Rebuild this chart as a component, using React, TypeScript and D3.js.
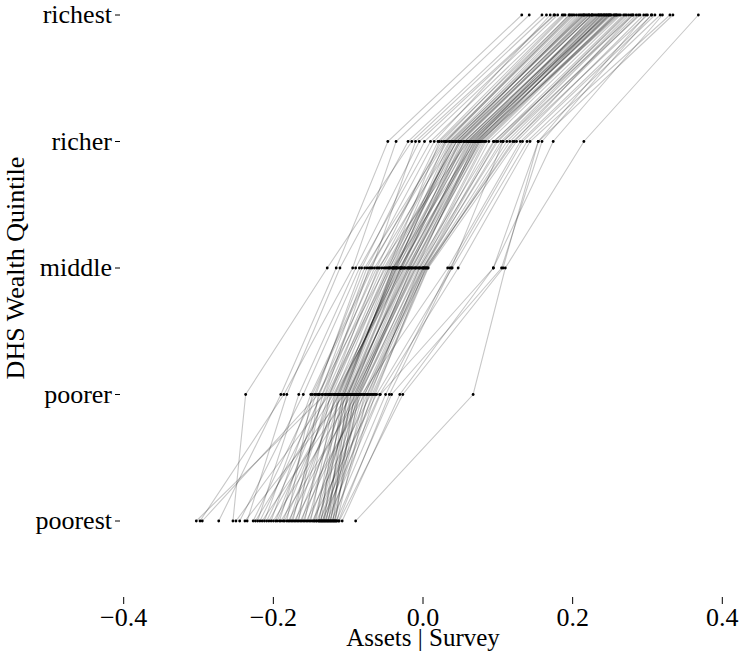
import React from "react";
import * as d3 from "d3";

const quintiles = ["poorest", "poorer", "middle", "richer", "richest"];
const xTicks = [-0.4, -0.2, 0.0, 0.2, 0.4];

const poorest = [
  -0.303, -0.298, -0.295, -0.273, -0.254, -0.250, -0.245, -0.238, -0.235, -0.227,
  -0.224, -0.221, -0.218, -0.215, -0.212, -0.209, -0.206, -0.203, -0.200, -0.197,
  -0.195, -0.192, -0.190, -0.187, -0.185, -0.182, -0.180, -0.178, -0.176, -0.174,
  -0.172, -0.170, -0.168, -0.166, -0.164, -0.162, -0.160, -0.158, -0.156, -0.154,
  -0.152, -0.150, -0.148, -0.146, -0.145, -0.143, -0.142, -0.140, -0.139, -0.138,
  -0.137, -0.136, -0.135, -0.134, -0.133, -0.132, -0.131, -0.130, -0.129, -0.128,
  -0.127, -0.126, -0.125, -0.124, -0.123, -0.122, -0.121, -0.120, -0.119, -0.118,
  -0.117, -0.116, -0.115, -0.108, -0.090, -0.112, -0.113,
];
const poorer = [
  -0.131, -0.186, -0.140, -0.190, -0.237, -0.125, -0.160, -0.105, -0.182, -0.145,
  -0.120, -0.166, -0.135, -0.100, -0.150, -0.128, -0.112, -0.143, -0.095, -0.130,
  -0.118, -0.138, -0.085, -0.122, -0.108, -0.148, -0.090, -0.126, -0.114, -0.134,
  -0.078, -0.116, -0.102, -0.140, -0.082, -0.110, -0.098, -0.124, -0.070, -0.106,
  -0.088, -0.118, -0.062, -0.100, -0.092, -0.112, -0.075, -0.096, -0.104, -0.066,
  -0.086, -0.114, -0.058, -0.094, -0.080, -0.108, -0.072, -0.090, -0.100, -0.057,
  -0.084, -0.106, -0.068, -0.088, -0.096, -0.050, -0.078, -0.102, -0.064, -0.086,
  -0.092, -0.042, -0.074, -0.031, 0.067, -0.027, -0.045,
];
const middle = [
  -0.072, -0.094, -0.050, -0.116, -0.128, -0.060, -0.085, -0.040, -0.111, -0.078,
  -0.030, -0.090, -0.065, -0.020, -0.070, -0.045, -0.035, -0.082, -0.010, -0.055,
  -0.025, -0.075, 0.000, -0.048, -0.038, -0.068, -0.015, -0.042, -0.032, -0.058,
  0.005, -0.028, -0.018, -0.062, 0.033, -0.036, -0.022, -0.052, -0.005, -0.040,
  -0.012, -0.046, 0.039, -0.030, -0.008, -0.044, 0.002, -0.026, -0.034, 0.007,
  -0.016, -0.040, 0.047, -0.020, -0.002, -0.038, 0.004, -0.014, -0.028, 0.094,
  -0.006, -0.036, 0.006, -0.010, -0.024, 0.036, 0.000, -0.030, 0.003, -0.004,
  -0.018, 0.105, 0.001, 0.094, 0.110, 0.107, 0.038,
];
const richer = [
  0.030, -0.036, 0.045, -0.047, -0.015, 0.060, 0.010, 0.070, -0.020, 0.028,
  0.055, -0.005, 0.040, 0.076, 0.025, 0.050, 0.062, 0.002, 0.094, 0.035,
  0.068, 0.015, 0.107, 0.048, 0.058, -0.010, 0.080, 0.042, 0.072, 0.032,
  0.120, 0.052, 0.065, 0.020, 0.130, 0.038, 0.074, 0.045, 0.100, 0.055,
  0.078, 0.022, 0.139, 0.060, 0.070, 0.030, 0.104, 0.066, 0.050, 0.125,
  0.076, 0.036, 0.143, 0.062, 0.088, 0.044, 0.112, 0.072, 0.056, 0.154,
  0.082, 0.040, 0.116, 0.074, 0.064, 0.133, 0.095, 0.048, 0.122, 0.084,
  0.068, 0.159, 0.098, 0.174, 0.215, 0.154, 0.107,
];
const richest = [
  0.195, 0.142, 0.210, 0.132, 0.165, 0.230, 0.186, 0.250, 0.159, 0.200,
  0.235, 0.176, 0.215, 0.262, 0.190, 0.222, 0.240, 0.180, 0.281, 0.205,
  0.228, 0.170, 0.290, 0.218, 0.245, 0.175, 0.255, 0.212, 0.238, 0.198,
  0.300, 0.225, 0.248, 0.188, 0.306, 0.208, 0.258, 0.220, 0.270, 0.232,
  0.242, 0.196, 0.317, 0.236, 0.252, 0.202, 0.275, 0.244, 0.226, 0.295,
  0.260, 0.214, 0.330, 0.246, 0.264, 0.222, 0.285, 0.250, 0.234, 0.334,
  0.256, 0.216, 0.288, 0.248, 0.238, 0.310, 0.268, 0.226, 0.280, 0.258,
  0.242, 0.305, 0.272, 0.320, 0.368, 0.298, 0.278,
];

const series = [poorest, poorer, middle, richer, richest];

export default function App() {
  const W = 739;
  const H = 652;
  const x = d3.scaleLinear().domain([-0.4, 0.4]).range([123.7, 722.3]);
  const y = d3.scalePoint<string>().domain(quintiles).range([521, 15]);
  const n = poorest.length;
  const rows = d3.range(n).map((i) => quintiles.map((q, k) => ({ q, v: series[k][i] })));
  const line = d3
    .line<{ q: string; v: number }>()
    .x((d) => x(d.v))
    .y((d) => y(d.q) as number);
  const font = '"Liberation Serif", "Times New Roman", Times, "DejaVu Serif", serif';
  const txt: React.CSSProperties = { fontFamily: font, fontSize: 26 };
  return (
    <svg
      width={W}
      height={H}
      style={{ position: "absolute", left: 0, top: 0, background: "white", fontFamily: font }}
    >
      <g>
        {rows.map((r, i) => (
          <path key={i} d={line(r) || ""} fill="none" stroke="#000" strokeOpacity={0.22} strokeWidth={1.1} />
        ))}
      </g>
      <g>
        {rows.map((r, i) =>
          r.map((d, k) => (
            <circle key={i + "-" + k} cx={x(d.v)} cy={y(d.q) as number} r={1.4} fill="#000" />
          ))
        )}
      </g>
      <g>
        {quintiles.map((q) => (
          <g key={q}>
            <line x1={115} x2={120} y1={y(q) as number} y2={y(q) as number} stroke="#000" strokeWidth={1} />
            <text x={112} y={(y(q) as number) + 8} textAnchor="end" style={txt} fill="#000">
              {q}
            </text>
          </g>
        ))}
      </g>
      <g>
        {xTicks.map((t) => (
          <g key={t}>
            <line x1={x(t)} x2={x(t)} y1={597} y2={604} stroke="#000" strokeWidth={1} />
            <text x={x(t)} y={626} textAnchor="middle" style={txt} fill="#000">
              {t < 0 ? "\u2212" + Math.abs(t).toFixed(1) : t.toFixed(1)}
            </text>
          </g>
        ))}
      </g>
      <text x={423} y={646} textAnchor="middle" style={{ fontFamily: font, fontSize: 25 }} fill="#000">
        Assets | Survey
      </text>
      <text
        transform={`translate(24, ${y("middle")}) rotate(-90)`}
        textAnchor="middle"
        style={txt}
        fill="#000"
      >
        DHS Wealth Quintile
      </text>
    </svg>
  );
}
